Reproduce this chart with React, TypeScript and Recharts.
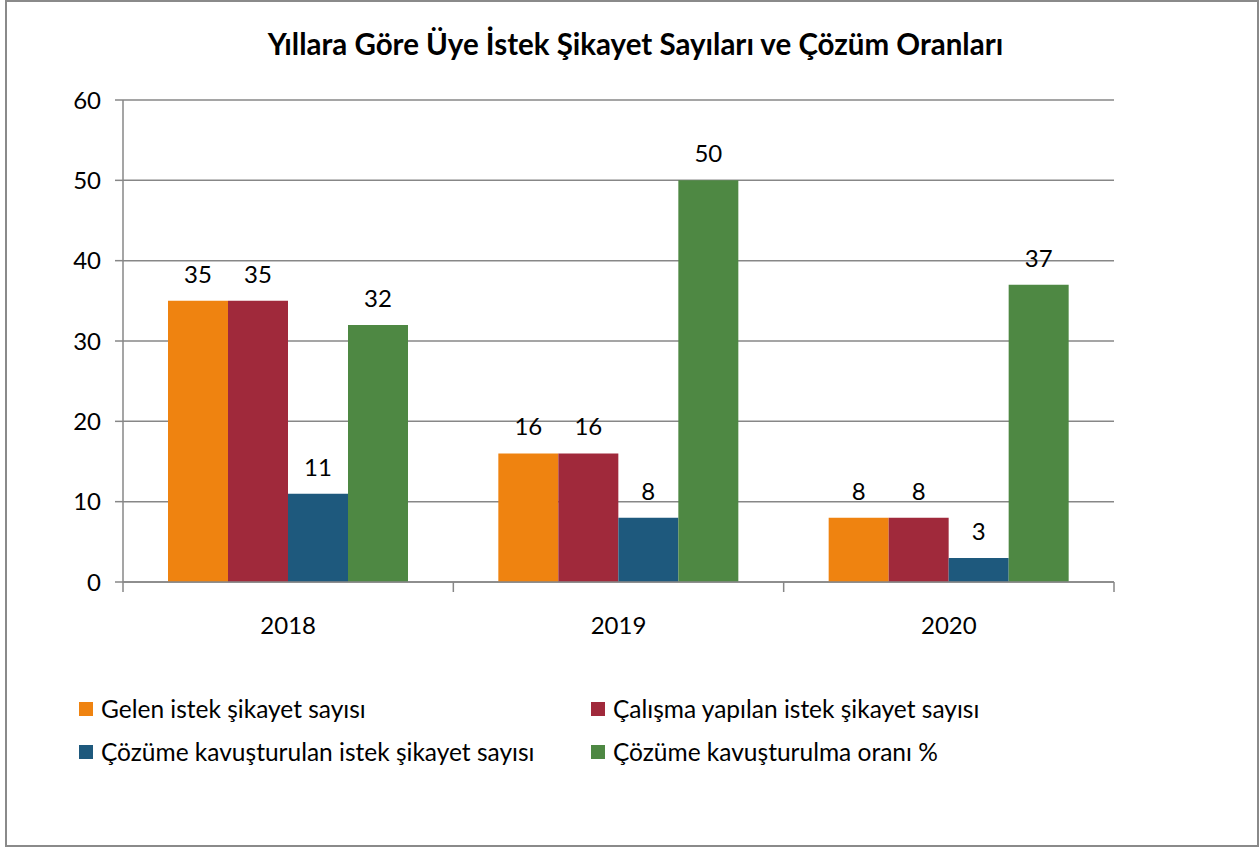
import React from 'react';
import { BarChart, Bar, XAxis, YAxis, CartesianGrid, LabelList } from 'recharts';

const years = ['2018', '2019', '2020'];
const gelen = [35, 16, 8];
const calisma = [35, 16, 8];
const cozume = [11, 8, 3];
const oran = [32, 50, 37];
const yTicks = [0, 10, 20, 30, 40, 50, 60];

const series = [
  { key: 'gelen', name: 'Gelen istek şikayet sayısı', color: '#EF8310' },
  { key: 'calisma', name: 'Çalışma yapılan istek şikayet sayısı', color: '#A0293B' },
  { key: 'cozume', name: 'Çözüme kavuşturulan istek şikayet sayısı', color: '#1E597D' },
  { key: 'oran', name: 'Çözüme kavuşturulma oranı %', color: '#4E8843' },
];

const data = years.map((year, i) => ({
  year,
  gelen: gelen[i],
  calisma: calisma[i],
  cozume: cozume[i],
  oran: oran[i],
}));

const FONT = 'Lato, "Liberation Sans", sans-serif';
const AXIS = '#878787';
const W = 1259;
const H = 848;
// x-axis keeps its default 30px height inside the bottom margin
const M = { top: 100, right: 145, bottom: 236, left: 0 };
const Y_W = 123;
const band = (W - M.right - Y_W) / years.length;

function YearTick(props: any) {
  const { x, y, payload, index } = props;
  return (
    <g>
      <line x1={x - band / 2} x2={x - band / 2} y1={y} y2={y + 10} stroke={AXIS} strokeWidth={1.5} />
      {index === years.length - 1 && (
        <line x1={x + band / 2} x2={x + band / 2} y1={y} y2={y + 10} stroke={AXIS} strokeWidth={1.5} />
      )}
      <text x={x} y={y + 46} textAnchor="middle" dominantBaseline="middle" fill="#000" fontSize={24} fontFamily={FONT}>
        {payload.value}
      </text>
    </g>
  );
}

function ChartLegend() {
  return (
    <div
      style={{
        position: 'absolute',
        top: 687,
        left: 79,
        display: 'grid',
        gridTemplateColumns: '512px 560px',
        fontFamily: FONT,
        fontSize: 24.5,
        color: '#000',
      }}
    >
      {series.map((s) => (
        <div key={s.key} style={{ display: 'flex', alignItems: 'center', height: 43, whiteSpace: 'nowrap' }}>
          <span style={{ width: 14, height: 14, background: s.color, marginRight: 8, display: 'inline-block', flexShrink: 0 }} />
          <span>{s.name}</span>
        </div>
      ))}
    </div>
  );
}

export default function App() {
  return (
    <div style={{ position: 'absolute', left: 0, top: 0, width: W, height: H, background: '#fff' }}>
      <div
        style={{
          position: 'absolute',
          left: 5,
          top: 0,
          width: 1254,
          height: 847,
          boxSizing: 'border-box',
          border: '2px solid #8a8a8a',
        }}
      />
      <div
        style={{
          position: 'absolute',
          top: 26,
          left: 0,
          width: W,
          textAlign: 'center',
          fontFamily: FONT,
          fontWeight: 700,
          fontSize: 29.5,
          lineHeight: '35px',
          color: '#000',
          paddingLeft: 6,
        }}
      >
        Yıllara Göre Üye İstek Şikayet Sayıları ve Çözüm Oranları
      </div>
      <div style={{ position: 'absolute', left: 0, top: 0 }}>
        <BarChart width={W} height={H} data={data} margin={M} barCategoryGap={45} barGap={0}>
          <CartesianGrid vertical={false} stroke={AXIS} strokeWidth={1.5} />
          <XAxis
            dataKey="year"
            tickSize={0}
            tickMargin={0}
            tickLine={false}
            axisLine={{ stroke: AXIS, strokeWidth: 1.5 }}
            tick={<YearTick />}
            interval={0}
          />
          <YAxis
            width={Y_W}
            domain={[0, 60]}
            ticks={yTicks}
            tickSize={8}
            tickMargin={14}
            axisLine={{ stroke: AXIS, strokeWidth: 1.5 }}
            tickLine={{ stroke: AXIS, strokeWidth: 1.5 }}
            tick={{ fill: '#000', fontSize: 24, fontFamily: FONT }}
          />
          {series.map((s) => (
            <Bar key={s.key} dataKey={s.key} name={s.name} fill={s.color} isAnimationActive={false}>
              <LabelList dataKey={s.key} position="top" offset={18} fill="#000" fontSize={24} fontFamily={FONT} />
            </Bar>
          ))}
        </BarChart>
      </div>
      <ChartLegend />
    </div>
  );
}
